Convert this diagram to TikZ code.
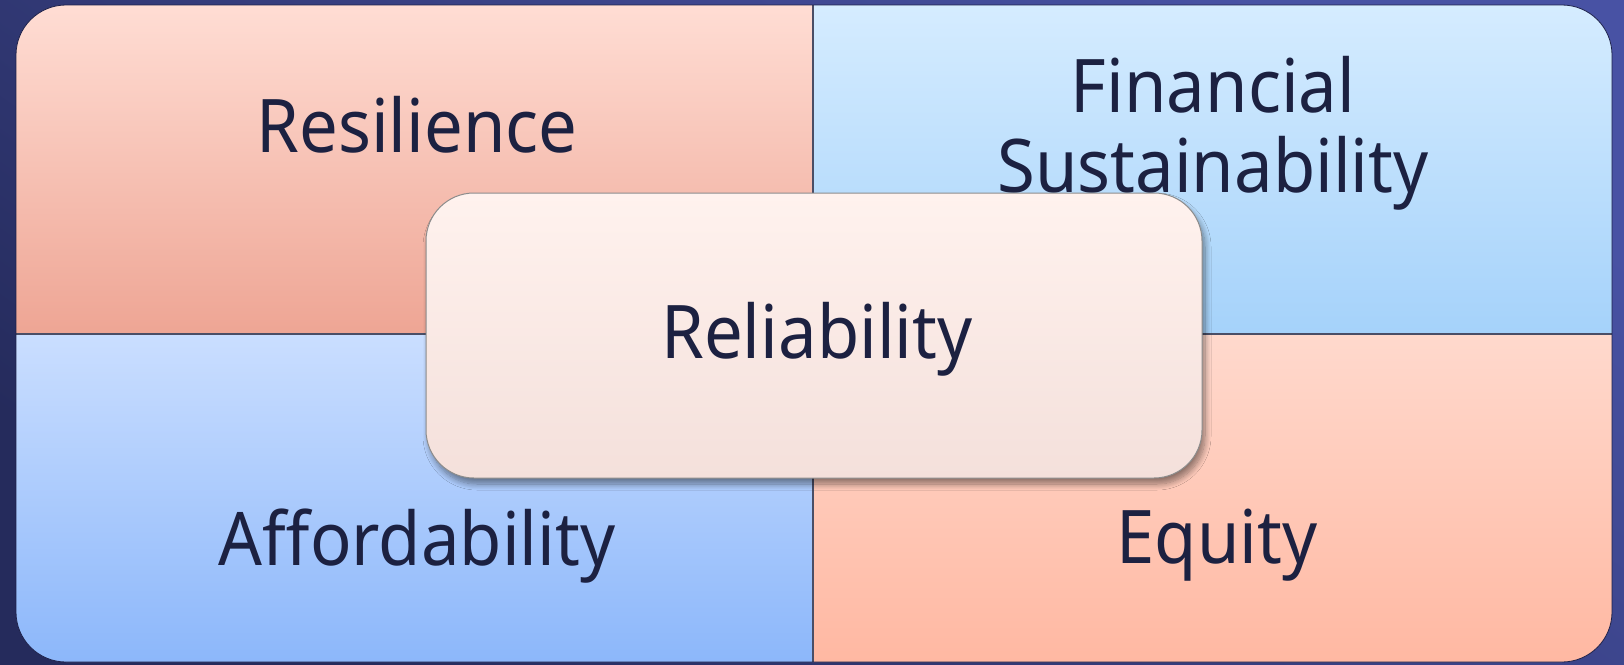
\documentclass[tikz,border=0pt]{standalone}
\usepackage{fontspec}
\setmainfont[FakeStretch=0.93]{Noto Sans}
\usetikzlibrary{shadows.blur}
\definecolor{bgdark}{HTML}{252B5C}
\definecolor{bglight}{HTML}{4852A4}
\definecolor{tlTop}{HTML}{FFDDD4}
\definecolor{tlBot}{HTML}{EEA594}
\definecolor{trTop}{HTML}{D5ECFF}
\definecolor{trBot}{HTML}{A5D2FA}
\definecolor{blTop}{HTML}{CADEFF}
\definecolor{blBot}{HTML}{8CB7FA}
\definecolor{brTop}{HTML}{FFD9CD}
\definecolor{brBot}{HTML}{FFB8A2}
\definecolor{cTop}{HTML}{FFF2EE}
\definecolor{cBot}{HTML}{F4E0DB}
\definecolor{txt}{HTML}{1C2141}
\definecolor{divc}{HTML}{4A4E66}
\tikzset{
  lbl/.style={text=txt, font=\fontsize{74}{80}\selectfont, inner sep=0pt, anchor=base, align=center},
  divider/.style={draw=divc, line width=1.5pt},
  centerbox/.style={rectangle, rounded corners=48pt, minimum width=776pt, minimum height=285pt,
    top color=cTop, bottom color=cBot, draw=black!45, line width=1pt,
    blur shadow={shadow xshift=3pt, shadow yshift=-6pt, shadow blur steps=10, shadow blur radius=6pt, shadow opacity=45}},
}
\begin{document}
\begin{tikzpicture}[x=1pt,y=-1pt]
\useasboundingbox (0,0) rectangle (1624,664);
\shade[bottom color=bgdark, top color=bglight, shading angle=-35] (0,0) rectangle (1624,664);
\begin{scope}
  \clip[rounded corners=50pt] (16,5) rectangle (1612,662);
  \shade[top color=tlTop, bottom color=tlBot] (16,5) rectangle (813,334);
  \shade[top color=trTop, bottom color=trBot] (813,5) rectangle (1612,334);
  \shade[top color=blTop, bottom color=blBot] (16,334) rectangle (813,662);
  \shade[top color=brTop, bottom color=brBot] (813,334) rectangle (1612,662);
  \draw[divider] (813,5) -- (813,662);
  \draw[divider] (16,334) -- (1612,334);
\end{scope}
\draw[draw=bgdark!80!black, line width=0.8pt, rounded corners=50pt] (16,5) rectangle (1612,662);
\node[lbl] (res) at (417,152) {Resilience};
\node[lbl] (fin) at (1213,192) {Financial\\Sustainability};
\node[lbl] (aff) at (417,565) {Affordability};
\node[lbl] (equ) at (1217,563) {Equity};
\node[centerbox] (box) at (814,335.5) {};
\node[lbl] (rel) at (817,358) {Reliability};
\end{tikzpicture}
\end{document}
